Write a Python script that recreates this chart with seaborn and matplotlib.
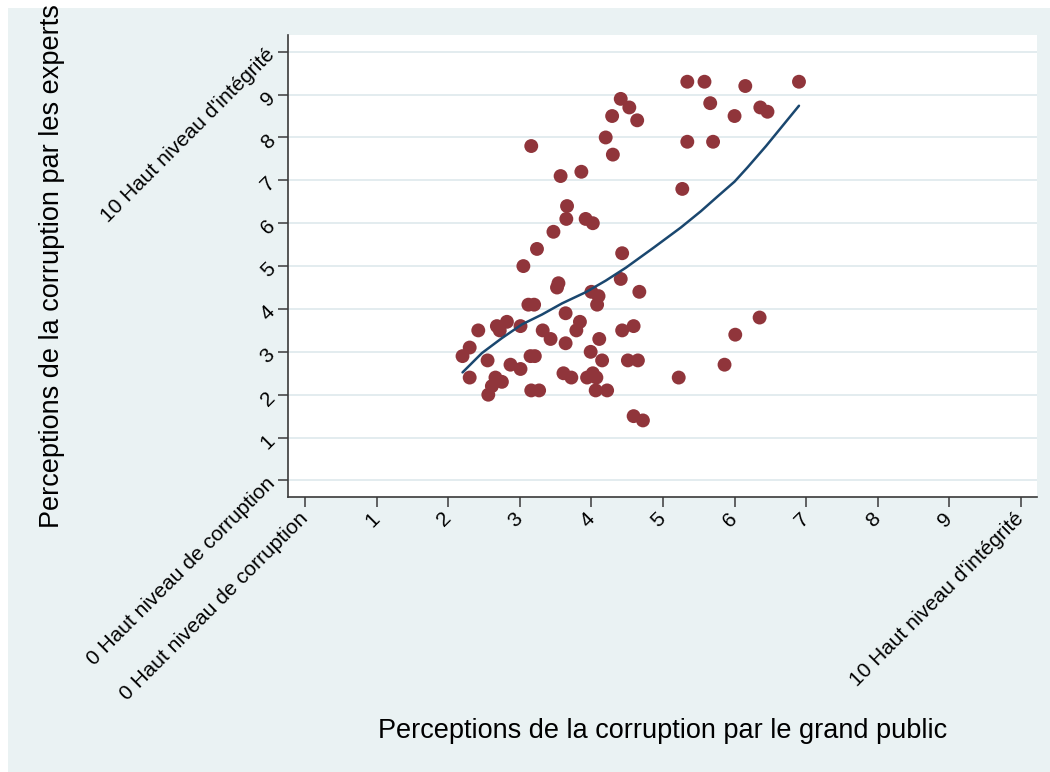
import matplotlib
matplotlib.use("Agg")
import matplotlib.pyplot as plt
import pandas as pd
import seaborn as sns
from matplotlib.patches import Rectangle


# Points (public perception on x, expert perception on y)
public_score = [
  5.34, 5.58, 6.15, 6.90, 4.41, 4.53, 4.29, 4.64, 5.66, 6.00,
  6.36, 6.46, 4.20, 4.30, 5.34, 5.70, 3.16, 3.57, 3.86, 5.27,
  3.66, 3.65, 3.92, 4.02, 3.47, 3.24, 3.05, 4.43, 3.54, 3.52,
  4.41, 4.67, 4.00, 4.10, 4.08, 3.12, 3.20, 3.64, 3.84, 3.79,
  2.42, 2.68, 2.72, 2.82, 3.01, 3.32, 3.43, 3.64, 4.43, 4.59,
  4.11, 2.30, 2.20, 2.55, 3.15, 3.21, 3.99, 4.15, 2.87, 3.01,
  2.30, 2.66, 2.75, 2.61, 2.56, 3.61, 3.72, 3.94, 4.02, 4.07,
  4.51, 4.65, 4.06, 4.22, 3.16, 3.27, 5.22, 5.86, 6.01, 6.35,
  4.59, 4.72,
]
expert_score = [
  9.3, 9.3, 9.2, 9.3, 8.9, 8.7, 8.5, 8.4, 8.8, 8.5,
  8.7, 8.6, 8.0, 7.6, 7.9, 7.9, 7.8, 7.1, 7.2, 6.8,
  6.4, 6.1, 6.1, 6.0, 5.8, 5.4, 5.0, 5.3, 4.6, 4.5,
  4.7, 4.4, 4.4, 4.3, 4.1, 4.1, 4.1, 3.9, 3.7, 3.5,
  3.5, 3.6, 3.5, 3.7, 3.6, 3.5, 3.3, 3.2, 3.5, 3.6,
  3.3, 3.1, 2.9, 2.8, 2.9, 2.9, 3.0, 2.8, 2.7, 2.6,
  2.4, 2.4, 2.3, 2.2, 2.0, 2.5, 2.4, 2.4, 2.5, 2.4,
  2.8, 2.8, 2.1, 2.1, 2.1, 2.1, 2.4, 2.7, 3.4, 3.8,
  1.5, 1.4,
]

# Smoothed (lowess) curve
fit_x = [2.20, 2.47, 2.75, 3.03, 3.31, 3.59, 3.92, 4.20, 4.48, 4.87, 5.25, 5.53, 5.76, 6.00, 6.18, 6.44, 6.90]
fit_y = [2.52, 2.97, 3.32, 3.64, 3.87, 4.13, 4.39, 4.66, 4.96, 5.43, 5.90, 6.28, 6.62, 6.97, 7.30, 7.80, 8.74]

tick_values = list(range(11))
tick_labels = ["0 Haut niveau de corruption"] + [str(v) for v in range(1, 10)] + ["10 Haut niveau d'intégrité"]

x_title = "Perceptions de la corruption par le grand public"
y_title = "Perceptions de la corruption par les experts"

BG = "#EAF2F3"
MAROON = "#90353B"
NAVY = "#1A476F"
GRID = "#E3ECEF"
AXIS = "#3A3A3A"


def main() -> None:
  sns.set_theme(style="white")
  plt.rcParams["font.family"] = ["Liberation Sans", "DejaVu Sans"]

  W, H = 1050, 772
  fig = plt.figure(figsize=(W / 100, H / 100), dpi=100)
  fig.patch.set_facecolor("white")
  fig.patches.append(Rectangle((8 / W, 0), 1 - 8 / W, 1 - 8 / H, transform=fig.transFigure,
                               facecolor=BG, edgecolor="none", zorder=-10))

  left, right, bottom, top = 288 / W, 1037 / W, 1 - 496.7 / H, 1 - 35 / H
  ax = fig.add_axes([left, bottom, right - left, top - bottom])
  ax.set_facecolor("white")

  df = pd.DataFrame({"public": public_score, "experts": expert_score})
  fit = pd.DataFrame({"x": fit_x, "y": fit_y})

  for v in tick_values:
    ax.axhline(v, color=GRID, linewidth=1.4, zorder=0)

  sns.scatterplot(data=df, x="public", y="experts", ax=ax, color=MAROON,
                  s=100, edgecolor="none", linewidth=0, zorder=3)
  sns.lineplot(data=fit, x="x", y="y", ax=ax, color=NAVY, linewidth=1.8,
               sort=False, estimator=None, zorder=4)

  ax.set_xlim(-0.238, 10.225)
  ax.set_ylim(-0.379, 10.39)
  ax.set_xticks(tick_values)
  ax.set_yticks(tick_values)
  ax.set_xticklabels(tick_labels, rotation=45, ha="right", va="center",
                     rotation_mode="anchor", fontsize=15)
  ax.set_yticklabels(tick_labels, rotation=45, ha="right", va="center",
                     rotation_mode="anchor", fontsize=15)
  ax.set_xlabel("")
  ax.set_ylabel("")

  for side in ["top", "right"]:
    ax.spines[side].set_visible(False)
  for side in ["left", "bottom"]:
    ax.spines[side].set_color(AXIS)
    ax.spines[side].set_linewidth(1.2)
  ax.tick_params(axis="both", which="major", direction="out", length=7.5, width=1.1,
                 color=AXIS, labelcolor="black", pad=4,
                 bottom=True, left=True)
  ax.tick_params(axis="x", pad=6)

  fig.text(662.5 / W, 1 - 731 / H, x_title, ha="center", va="center",
           fontsize=19.5, color="black")
  fig.text(52 / W, 1 - 266 / H, y_title, ha="center", va="center", rotation=90,
           fontsize=19.5, color="black")

  fig.savefig("out.png", dpi=100, facecolor=fig.get_facecolor())
  plt.close(fig)


if __name__ == "__main__":
  main()
